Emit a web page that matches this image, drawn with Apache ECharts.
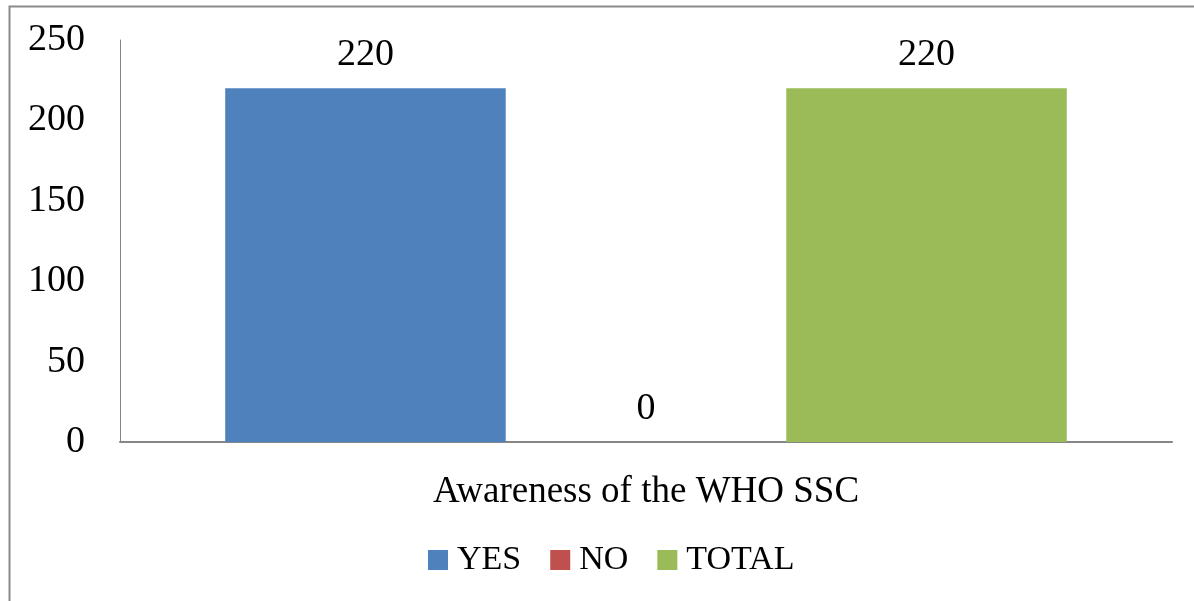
<!DOCTYPE html>
<html>
<head>
<meta charset="utf-8">
<style>
  html, body { margin: 0; padding: 0; background: #ffffff; }
  #chart { width: 1194px; height: 601px; }
</style>
<script src="https://cdn.jsdelivr.net/npm/echarts@6/dist/echarts.min.js"></script>
</head>
<body>
<div id="chart"></div>
<script>
// Survey: awareness of the WHO SSC
const categories = ['Awareness of the WHO SSC'];
const seriesNames = ['YES', 'NO', 'TOTAL'];
const yesValues = [220];
const noValues = [0];
const totalValues = [220];
const yTicks = { min: 0, max: 250, interval: 50 };

const colors = ['#4F81BD', '#C0504D', '#9BBB59'];
const font = '"Liberation Serif", "DejaVu Serif", serif';
const valueSets = [yesValues, noValues, totalValues];

const chart = echarts.init(document.getElementById('chart'), null, { renderer: 'canvas' });

chart.setOption({
  animation: false,
  backgroundColor: '#ffffff',
  textStyle: { fontFamily: font },
  graphic: [{
    type: 'rect',
    left: 7, top: 4,
    shape: { width: 1200, height: 620 },
    style: { fill: 'none', stroke: '#8a8a8a', lineWidth: 2 },
    silent: true
  }],
  grid: { left: 120, right: 22, top: 40, bottom: 159, containLabel: false },
  legend: {
    data: seriesNames,
    bottom: 19,
    left: 423,
    itemWidth: 20,
    itemHeight: 20,
    itemGap: 29,
    icon: 'rect',
    textStyle: { fontFamily: font, fontSize: 34, color: '#000', padding: [0, 0, 0, 4] }
  },
  xAxis: {
    type: 'category',
    data: categories,
    axisLine: { lineStyle: { color: '#868686', width: 2 } },
    axisTick: { show: false },
    axisLabel: { fontFamily: font, fontSize: 37, color: '#000', margin: 32 }
  },
  yAxis: {
    type: 'value',
    min: yTicks.min,
    max: yTicks.max,
    interval: yTicks.interval,
    axisLine: { show: true, lineStyle: { color: '#868686', width: 1 } },
    axisTick: { show: false },
    splitLine: { show: false },
    axisLabel: { fontFamily: font, fontSize: 38, color: '#000', margin: 35 }
  },
  series: seriesNames.map((name, i) => ({
    name,
    type: 'bar',
    data: valueSets[i],
    barGap: '0%',
    barCategoryGap: '20%',
    itemStyle: { color: colors[i] },
    label: {
      show: true,
      position: 'top',
      distance: 14,
      fontFamily: font,
      fontSize: 38,
      color: '#000'
    }
  }))
});
</script>
</body>
</html>
